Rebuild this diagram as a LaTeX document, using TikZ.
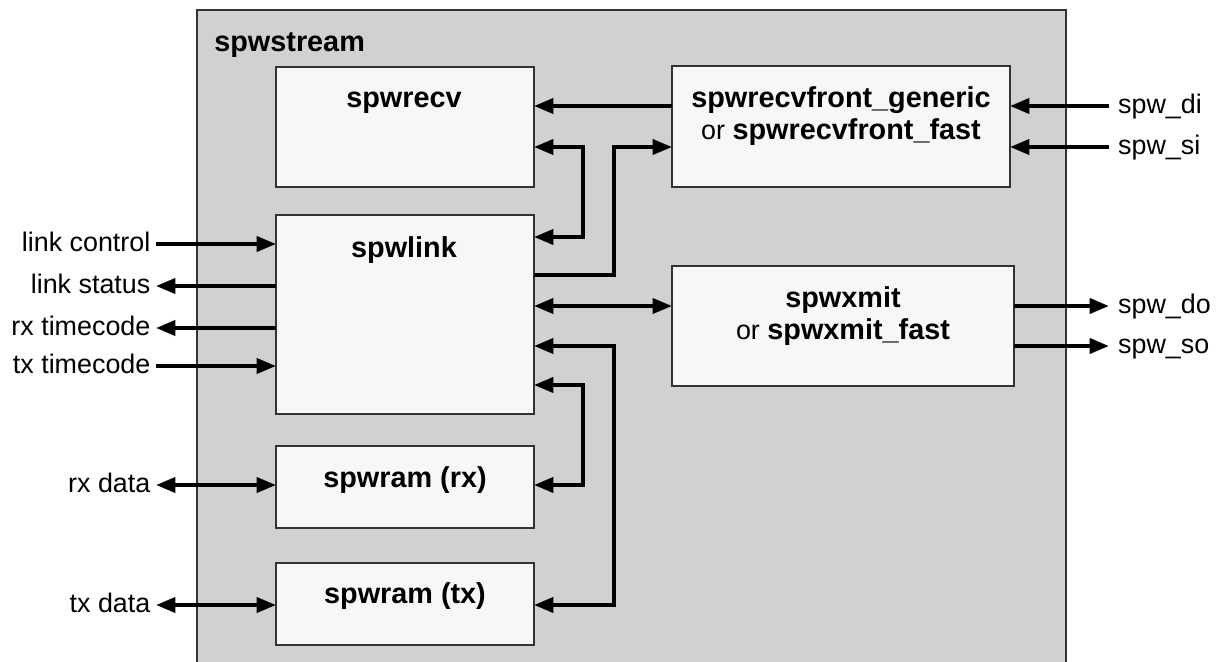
\documentclass[tikz,border=0pt]{standalone}
\usepackage{xcolor}
\usepackage{tikz}
\usetikzlibrary{arrows.meta}
\usepackage{fontspec}
\setmainfont{Liberation Sans}
\newcommand{\modb}[1]{{\fontsize{16.4}{19}\selectfont\bfseries #1}}

\begin{document}
\begin{tikzpicture}[x=0.02cm, y=-0.02cm,
      block/.style={rectangle, draw=black!80, line width=0.8pt, fill=black!3, inner sep=0pt, outer sep=0pt},
      txt/.style={inner sep=0pt, text height=12pt, text depth=4pt, font=\fontsize{15.3}{18}\selectfont},
      modtxt/.style={txt, font=\fontsize{16.4}{19}\selectfont\bfseries},
      lbl/.style={txt, inner xsep=3pt},
      sig/.style={line width=2.2pt, -{Triangle[length=11pt, width=8.5pt]}},
      sig2/.style={line width=2.2pt, {Triangle[length=11pt, width=8.5pt]}-{Triangle[length=11pt, width=8.5pt]}}
      ]
      \useasboundingbox (0,0) rectangle (1223,662);
      \clip (0,0) rectangle (1223,662);

      % container
      \node[block, fill=black!18, minimum width=17.38cm, minimum height=13.4cm] (stream) at (631.5,345) {};
      \node[modtxt, anchor=west] (streamtxt) at (214,44) {spwstream};

      % blocks
      \node[block, minimum width=5.16cm, minimum height=2.4cm] (recv) at (405,127) {};
      \node[block, minimum width=5.16cm, minimum height=3.98cm] (link) at (405,314.5) {};
      \node[block, minimum width=5.16cm, minimum height=1.64cm] (ramrx) at (405,487) {};
      \node[block, minimum width=5.16cm, minimum height=1.64cm] (ramtx) at (405,604) {};
      \node[block, minimum width=6.76cm, minimum height=2.42cm] (front) at (841,126.5) {};
      \node[block, minimum width=6.84cm, minimum height=2.4cm] (xmit) at (843,326) {};

      \node[modtxt] (recvtxt) at (404,100) {spwrecv};
      \node[modtxt] (linktxt) at (404,250) {spwlink};
      \node[modtxt] (ramrxtxt) at (405,480) {spwram (rx)};
      \node[modtxt] (ramtxtxt) at (405,596) {spwram (tx)};
      \node[modtxt] (fronttxt) at (841,100) {spwrecvfront\_generic};
      \node[txt] (fronttxt2) at (841,132) {or \modb{spwrecvfront\_fast}};
      \node[modtxt] (xmittxt) at (843,300) {spwxmit};
      \node[txt] (xmittxt2) at (843,332) {or \modb{spwxmit\_fast}};

      % outside signals
      \node[lbl, anchor=east] (lnkctl) at (156,244) {link control};
      \node[lbl, anchor=east] (lnkst) at (156,286) {link status};
      \node[lbl, anchor=east] (rxtc) at (156,328) {rx timecode};
      \node[lbl, anchor=east] (txtc) at (156,366) {tx timecode};
      \node[lbl, anchor=east] (rxdat) at (156,485) {rx data};
      \node[lbl, anchor=east] (txdat) at (156,605) {tx data};
      \node[lbl, inner xsep=5pt, anchor=west] (spwdi) at (1109,106) {spw\_di};
      \node[lbl, inner xsep=5pt, anchor=west] (spwsi) at (1109,147) {spw\_si};
      \node[lbl, inner xsep=5pt, anchor=west] (spwdo) at (1109,306) {spw\_do};
      \node[lbl, inner xsep=5pt, anchor=west] (spwso) at (1109,346) {spw\_so};

      \draw[sig] (lnkctl.east) -- (link.west |- lnkctl.east);
      \draw[sig] (link.west |- lnkst.east) -- (lnkst.east);
      \draw[sig] (link.west |- rxtc.east) -- (rxtc.east);
      \draw[sig] (txtc.east) -- (link.west |- txtc.east);
      \draw[sig2] (rxdat.east) -- (ramrx.west |- rxdat.east);
      \draw[sig2] (txdat.east) -- (ramtx.west |- txdat.east);
      \draw[sig] (spwdi.west) -- (front.east |- spwdi.west);
      \draw[sig] (spwsi.west) -- (front.east |- spwsi.west);
      \draw[sig] (xmit.east |- spwdo.west) -- (spwdo.west);
      \draw[sig] (xmit.east |- spwso.west) -- (spwso.west);

      % internal connections
      \draw[sig] (front.west |- spwdi.west) -- (recv.east |- spwdi.west);
      \draw[sig2] (recv.east |- spwsi.west) -| (583,237) -- (link.east |- 0,237);
      \draw[sig] (link.east |- 0,275) -| (614,147) -- (front.west |- spwsi.west);
      \draw[sig2] (link.east |- spwdo.west) -- (xmit.west |- spwdo.west);
      \draw[sig2] (link.east |- spwso.west) -| (614,605) -- (ramtx.east |- txdat.east);
      \draw[sig2] (link.east |- 0,385) -| (583,485) -- (ramrx.east |- rxdat.east);
    \end{tikzpicture}
\end{document}
